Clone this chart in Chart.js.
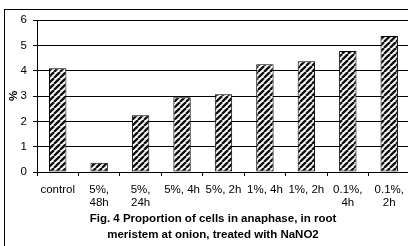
<!DOCTYPE html>
<html>
<head>
<meta charset="utf-8">
<script src="https://cdn.jsdelivr.net/npm/chart.js@4"></script>
<style>
  html, body { margin: 0; padding: 0; background: #fff; overflow: hidden; }
  #frame { position: absolute; left: 4px; top: 9px; width: 600px; height: 400px; border: 1px solid #000; }
  #wrap { position: absolute; left: 0; top: 0; width: 412px; height: 246px; }
</style>
</head>
<body>
<div id="frame"></div>
<div id="wrap"><canvas id="chart"></canvas></div>
<script>
var categories = [
  "control",
  ["5%,", "48h"],
  ["5%,", "24h"],
  "5%, 4h",
  "5%, 2h",
  "1%, 4h",
  "1%, 2h",
  ["0.1%,", "4h"],
  ["0.1%,", "2h"]
]
var anaphase = [4.1, 0.37, 2.24, 2.95, 3.07, 4.25, 4.37, 4.78, 5.37]
var yTicks = [0, 1, 2, 3, 4, 5, 6]
var figTitle = [
  "Fig. 4 Proportion of cells in anaphase, in root",
  "meristem at onion, treated with NaNO2"
]

// diagonal hatch like the old spreadsheet fill
function hatch() {
  var c = document.createElement("canvas")
  c.width = 6
  c.height = 6
  var p = c.getContext("2d")
  p.fillStyle = "#ffffff"
  p.fillRect(0, 0, 6, 6)
  p.strokeStyle = "#111111"
  p.lineWidth = 2.4
  for (var o = -6; o <= 6; o += 6) {
    p.beginPath()
    p.moveTo(o, 6)
    p.lineTo(o + 6, 0)
    p.stroke()
  }
  return p.createPattern(c, "repeat")
}

var font = "'Liberation Sans', Arial, sans-serif"

new Chart(document.getElementById("chart"), {
  type: "bar",
  data: {
    labels: categories,
    datasets: [{
      data: anaphase,
      backgroundColor: hatch(),
      borderColor: "#000000",
      borderWidth: 1,
      borderSkipped: false,
      categoryPercentage: 1,
      barPercentage: 0.42
    }]
  },
  options: {
    responsive: true,
    maintainAspectRatio: false,
    animation: false,
    layout: {
      padding: { left: 15, right: 1, top: 20, bottom: 0 }
    },
    plugins: {
      legend: { display: false },
      tooltip: { enabled: false },
      title: {
        display: true,
        position: "bottom",
        text: figTitle,
        color: "#000000",
        font: { family: font, size: 11.5, weight: "bold", lineHeight: 1.4 },
        padding: { top: 0, bottom: 3 }
      }
    },
    scales: {
      x: {
        afterFit: function (scale) { scale.height = 38.8 },
        border: { color: "#000000", width: 1 },
        grid: { drawOnChartArea: false, color: "#000000", tickLength: 4, offset: true },
        ticks: {
          color: "#000000",
          padding: 8,
          maxRotation: 0,
          autoSkip: false,
          font: { family: font, size: 11.5, lineHeight: 1.1 }
        }
      },
      y: {
        min: 0,
        max: 6,
        afterFit: function (scale) { scale.width = 22 },
        afterBuildTicks: function (scale) {
          scale.ticks = yTicks.map(function (v) { return { value: v } })
        },
        border: { color: "#000000", width: 1 },
        grid: { color: "#000000", tickLength: 4 },
        ticks: {
          color: "#000000",
          padding: 6,
          font: { family: font, size: 11.5 }
        },
        title: {
          display: true,
          text: "%",
          color: "#000000",
          padding: { top: -8, bottom: 0 },
          font: { family: font, size: 11.5, weight: "bold" }
        }
      }
    }
  }
})
</script>
</body>
</html>
